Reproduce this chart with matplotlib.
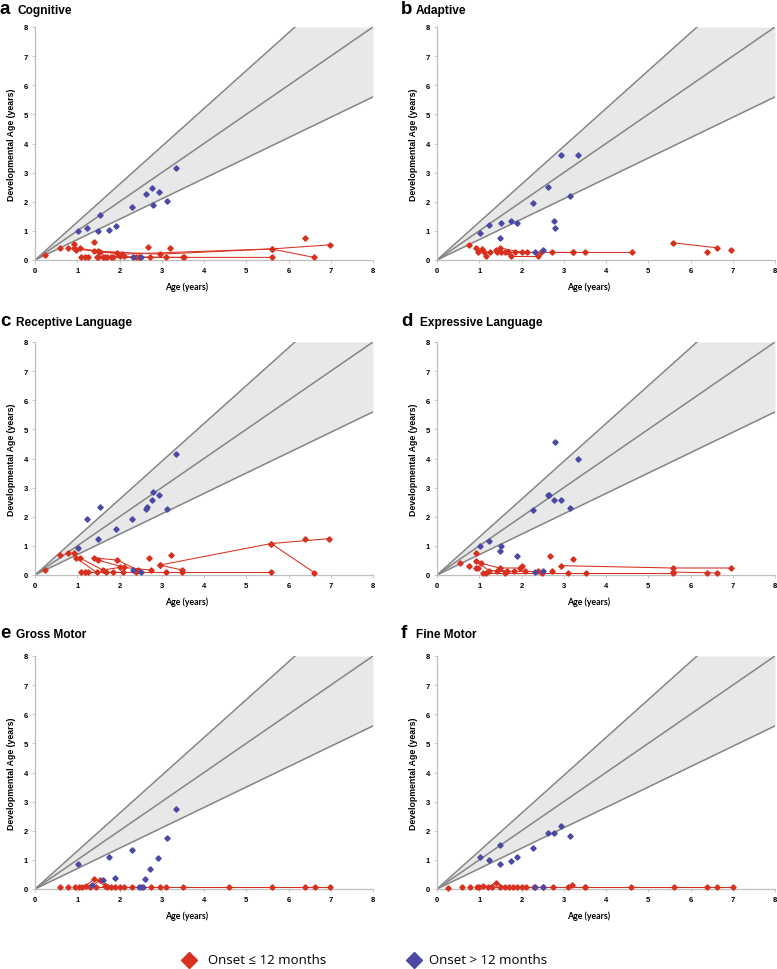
import matplotlib
matplotlib.use("Agg")
import matplotlib.pyplot as plt
from matplotlib.lines import Line2D
import numpy as np

RED = "#d8301f"
BLUE = "#4a4aa6"
BAND = "#e8e8e8"
REFLINE = "#858585"
SPINE = "#bfbfbf"

ref_slopes = [0.7, 1.0, 1.3]
ticks = [0, 1, 2, 3, 4, 5, 6, 7, 8]

letters = ["a", "b", "c", "d", "e", "f"]
titles = ["Cognitive", "Adaptive", "Receptive Language", "Expressive Language",
          "Gross Motor", "Fine Motor"]
legend_labels = ["Onset \u2264 12 months", "Onset > 12 months"]

# ---------------- Panel a: Cognitive ----------------
a_blue_x = [1.02, 1.22, 1.54, 1.48, 1.75, 1.91, 2.29, 2.62, 2.78, 2.94, 2.80, 3.13, 3.33, 2.32, 2.51]
a_blue_y = [1.01, 1.10, 1.56, 1.01, 1.04, 1.17, 1.83, 2.25, 2.48, 2.32, 1.90, 2.01, 3.16, 0.11, 0.11]
a_red_x = [0.24, 0.58, 0.77, 0.93, 0.93, 1.10, 1.18, 1.26, 1.40, 1.46, 1.70, 1.80, 1.85,
           2.00, 2.45, 2.68, 2.72, 3.20, 6.40]
a_red_y = [0.17, 0.40, 0.40, 0.55, 0.40, 0.09, 0.09, 0.09, 0.61, 0.09, 0.09, 0.09, 0.12,
           0.15, 0.09, 0.45, 0.12, 0.40, 0.75]
a_red_paths = [
    ([0.97, 1.40, 1.95, 2.10], [0.36, 0.32, 0.25, 0.15]),
    ([1.06, 1.50, 2.95, 5.60, 6.98], [0.40, 0.30, 0.20, 0.38, 0.52]),
    ([1.50, 2.45, 5.60], [0.12, 0.09, 0.09]),
    ([1.55, 2.05, 5.60, 6.60], [0.28, 0.20, 0.38, 0.09]),
    ([1.60, 2.40, 3.50], [0.12, 0.12, 0.12]),
    ([1.65, 3.10, 3.52], [0.12, 0.09, 0.09]),
]

# ---------------- Panel b: Adaptive ----------------
b_blue_x = [1.01, 1.22, 1.48, 1.52, 1.75, 1.90, 2.28, 2.62, 2.93, 3.33, 3.14, 2.77, 2.80, 2.32, 2.51]
b_blue_y = [0.94, 1.19, 0.77, 1.26, 1.34, 1.26, 1.94, 2.51, 3.60, 3.60, 2.19, 1.34, 1.10, 0.26, 0.34]
b_red_x = [0.76, 0.96, 1.07, 1.17, 1.42, 1.52, 1.60, 2.45, 2.73, 3.21, 3.50, 6.40, 6.97]
b_red_y = [0.51, 0.26, 0.38, 0.15, 0.26, 0.26, 0.26, 0.26, 0.26, 0.26, 0.26, 0.26, 0.34]
b_red_paths = [
    ([1.48, 2.02, 4.61], [0.42, 0.26, 0.26]),
    ([0.92, 1.11, 1.25], [0.42, 0.26, 0.26]),
    ([1.74, 2.39], [0.15, 0.15]),
    ([5.59, 6.62], [0.59, 0.42]),
    ([1.39, 1.68, 2.12], [0.34, 0.26, 0.26]),
    ([1.84, 3.21], [0.26, 0.26]),
]

# ---------------- Panel c: Receptive Language ----------------
c_blue_x = [1.02, 1.22, 1.54, 1.48, 1.91, 2.29, 2.62, 2.66, 2.78, 2.80, 2.94, 3.13, 3.33, 2.32, 2.51]
c_blue_y = [0.93, 1.93, 2.33, 1.25, 1.58, 1.93, 2.27, 2.33, 2.58, 2.84, 2.75, 2.27, 4.17, 0.18, 0.10]
c_red_x = [0.24, 0.58, 0.77, 0.93, 1.18, 1.26, 1.69, 2.09, 2.40, 3.11, 2.69, 3.21, 6.39]
c_red_y = [0.17, 0.67, 0.76, 0.76, 0.09, 0.09, 0.09, 0.09, 0.09, 0.09, 0.59, 0.68, 1.25]
c_red_paths = [
    ([0.97, 1.46, 1.85], [0.59, 0.09, 0.09]),
    ([1.06, 1.60, 2.00], [0.59, 0.17, 0.26]),
    ([1.40, 1.95, 2.44], [0.59, 0.51, 0.17]),
    ([1.50, 2.11, 2.74], [0.51, 0.26, 0.17]),
    ([2.95, 5.59, 6.97], [0.34, 1.08, 1.25]),
    ([5.59, 6.61], [1.08, 0.08]),
    ([1.10, 3.49, 5.59], [0.09, 0.09, 0.09]),
    ([2.95, 3.49], [0.34, 0.17]),
]

# ---------------- Panel d: Expressive Language ----------------
d_blue_x = [1.01, 1.22, 1.48, 1.52, 1.90, 2.28, 2.62, 2.65, 2.77, 2.80, 2.93, 3.14, 3.33, 2.32, 2.51]
d_blue_y = [1.00, 1.16, 0.82, 1.00, 0.65, 2.23, 2.75, 2.75, 2.58, 4.57, 2.58, 2.31, 4.00, 0.10, 0.15]
d_red_x = [0.55, 0.76, 0.92, 0.93, 0.97, 1.17, 1.60, 1.83, 2.48, 2.68, 2.73, 3.10, 3.21, 6.40]
d_red_y = [0.40, 0.31, 0.74, 0.24, 0.24, 0.07, 0.07, 0.15, 0.07, 0.65, 0.15, 0.07, 0.56, 0.07]
d_red_paths = [
    ([2.93, 5.59, 6.97], [0.32, 0.24, 0.24]),
    ([1.09, 3.52, 5.59], [0.07, 0.07, 0.07]),
    ([0.92, 1.23, 1.66], [0.48, 0.15, 0.15]),
    ([1.05, 1.48, 1.96, 2.00], [0.40, 0.24, 0.24, 0.32]),
    ([5.59, 6.62], [0.10, 0.07]),
    ([1.43, 2.09, 2.40], [0.15, 0.15, 0.15]),
]

# ---------------- Panel e: Gross Motor ----------------
e_blue_x = [1.02, 1.35, 1.60, 1.75, 1.90, 2.30, 2.60, 2.72, 2.90, 3.13, 3.33, 2.45, 2.55]
e_blue_y = [0.85, 0.15, 0.30, 1.10, 0.38, 1.35, 0.35, 0.70, 1.05, 1.75, 2.75, 0.08, 0.08]
e_red_x = [0.60, 0.78, 0.95, 1.05, 1.12, 1.70, 1.90, 2.00, 2.10, 2.30, 2.50, 2.75, 3.10,
           3.50, 4.60, 6.40, 6.62]
e_red_y = [0.07, 0.07, 0.07, 0.07, 0.07, 0.07, 0.07, 0.07, 0.07, 0.07, 0.07, 0.07, 0.07,
           0.07, 0.07, 0.07, 0.07]
e_red_paths = [
    ([1.45, 2.95, 5.60, 6.98], [0.07, 0.07, 0.07, 0.07]),
    ([1.20, 1.40, 1.65], [0.10, 0.35, 0.12]),
    ([1.30, 1.55, 1.80], [0.07, 0.30, 0.07]),
]

# ---------------- Panel f: Fine Motor ----------------
f_blue_x = [1.02, 1.22, 1.48, 1.50, 1.75, 1.90, 2.28, 2.62, 2.77, 2.93, 3.14, 2.32, 2.50]
f_blue_y = [1.10, 1.00, 1.50, 0.85, 0.95, 1.10, 1.40, 1.91, 1.91, 2.16, 1.82, 0.08, 0.08]
f_red_x = [0.25, 0.60, 0.78, 0.95, 1.10, 1.30, 1.50, 1.70, 1.80, 1.90, 2.00, 2.10, 2.30,
           2.50, 2.75, 3.10, 3.20, 3.50, 4.60, 6.40, 6.62]
f_red_y = [0.05, 0.07, 0.07, 0.07, 0.12, 0.07, 0.07, 0.07, 0.07, 0.07, 0.07, 0.07, 0.07,
           0.07, 0.07, 0.07, 0.14, 0.07, 0.07, 0.07, 0.07]
f_red_paths = [
    ([1.00, 3.50, 5.60, 7.00], [0.07, 0.07, 0.07, 0.07]),
    ([1.20, 1.40, 1.60], [0.07, 0.22, 0.07]),
]

panel_data = [
    (a_blue_x, a_blue_y, a_red_x, a_red_y, a_red_paths),
    (b_blue_x, b_blue_y, b_red_x, b_red_y, b_red_paths),
    (c_blue_x, c_blue_y, c_red_x, c_red_y, c_red_paths),
    (d_blue_x, d_blue_y, d_red_x, d_red_y, d_red_paths),
    (e_blue_x, e_blue_y, e_red_x, e_red_y, e_red_paths),
    (f_blue_x, f_blue_y, f_red_x, f_red_y, f_red_paths),
]

W, H = 777, 970
fig = plt.figure(figsize=(W / 100, H / 100), dpi=100)

col_left = [35, 437]
ax_w = 338
row_top = [28, 343, 657]
ax_h = 233
title_base = [14, 326, 638]
letter_x = [0, 401]
title_x = [[17, 416], [16, 420], [16, 416]]

MS = 2.7
for i in range(6):
    r, c = divmod(i, 2)
    left = col_left[c]
    top = row_top[r]
    ax = fig.add_axes([left / W, 1 - (top + ax_h) / H, ax_w / W, ax_h / H])
    ax.set_xlim(0, 8)
    ax.set_ylim(0, 8)
    xs = np.linspace(0, 8, 400)
    ax.fill_between(xs, ref_slopes[0] * xs, np.minimum(ref_slopes[2] * xs, 8),
                    color=BAND, lw=0, zorder=1)
    for s in ref_slopes:
        ax.plot(xs, s * xs, color=REFLINE, lw=1.1, zorder=2)

    bx, by, rx, ry, paths = panel_data[i]
    for px, py in paths:
        ax.plot(px, py, color=RED, lw=0.75, marker="D", ms=MS, mec=RED,
                zorder=3, clip_on=False)
    ax.plot(rx, ry, ls="none", marker="D", ms=MS, color=RED, zorder=4, clip_on=False)
    ax.plot(bx, by, ls="none", marker="D", ms=MS, color=BLUE, zorder=5, clip_on=False)

    for side in ["top", "right"]:
        ax.spines[side].set_visible(False)
    for side in ["left", "bottom"]:
        ax.spines[side].set_color(SPINE)
        ax.spines[side].set_linewidth(0.9)
    ax.set_xticks(ticks)
    ax.set_yticks(ticks)
    ax.set_xticklabels([str(t) for t in ticks])
    ax.set_yticklabels([str(t) for t in ticks])
    ax.tick_params(length=2.5, width=0.6, color=SPINE, labelsize=5.5, pad=2.5)
    for lab in ax.get_xticklabels() + ax.get_yticklabels():
        lab.set_fontweight("bold")
        lab.set_family("Liberation Sans")

    ax.set_xlabel("Age (years)", fontsize=6.3, fontweight="bold", family="Lato")
    ax.xaxis.set_label_coords(0.45, -0.094)
    ax.set_ylabel("Developmental Age (years)", fontsize=6.3, fontweight="bold",
                  family="Liberation Sans")
    ax.yaxis.set_label_coords(-0.056, 0.5)

    fig.text(letter_x[c] / W, 1 - title_base[r] / H, letters[i], fontsize=13.5,
             fontweight="bold", family="Liberation Sans", va="baseline", ha="left")
    fig.text(title_x[r][c] / W, 1 - title_base[r] / H, titles[i], fontsize=8.6,
             fontweight="bold", family="Liberation Sans", va="baseline", ha="left")

# legend
leg_y = 1 - 961 / H
for mx, tx, col, lab in [(189, 208, RED, legend_labels[0]), (414, 429, BLUE, legend_labels[1])]:
    fig.add_artist(Line2D([mx / W], [leg_y], marker="D", ms=8, color=col, ls="none",
                          transform=fig.transFigure))
    fig.text(tx / W, leg_y, lab, fontsize=9.5, family="Open Sans", va="center", ha="left")

fig.savefig("out.png", dpi=100)
